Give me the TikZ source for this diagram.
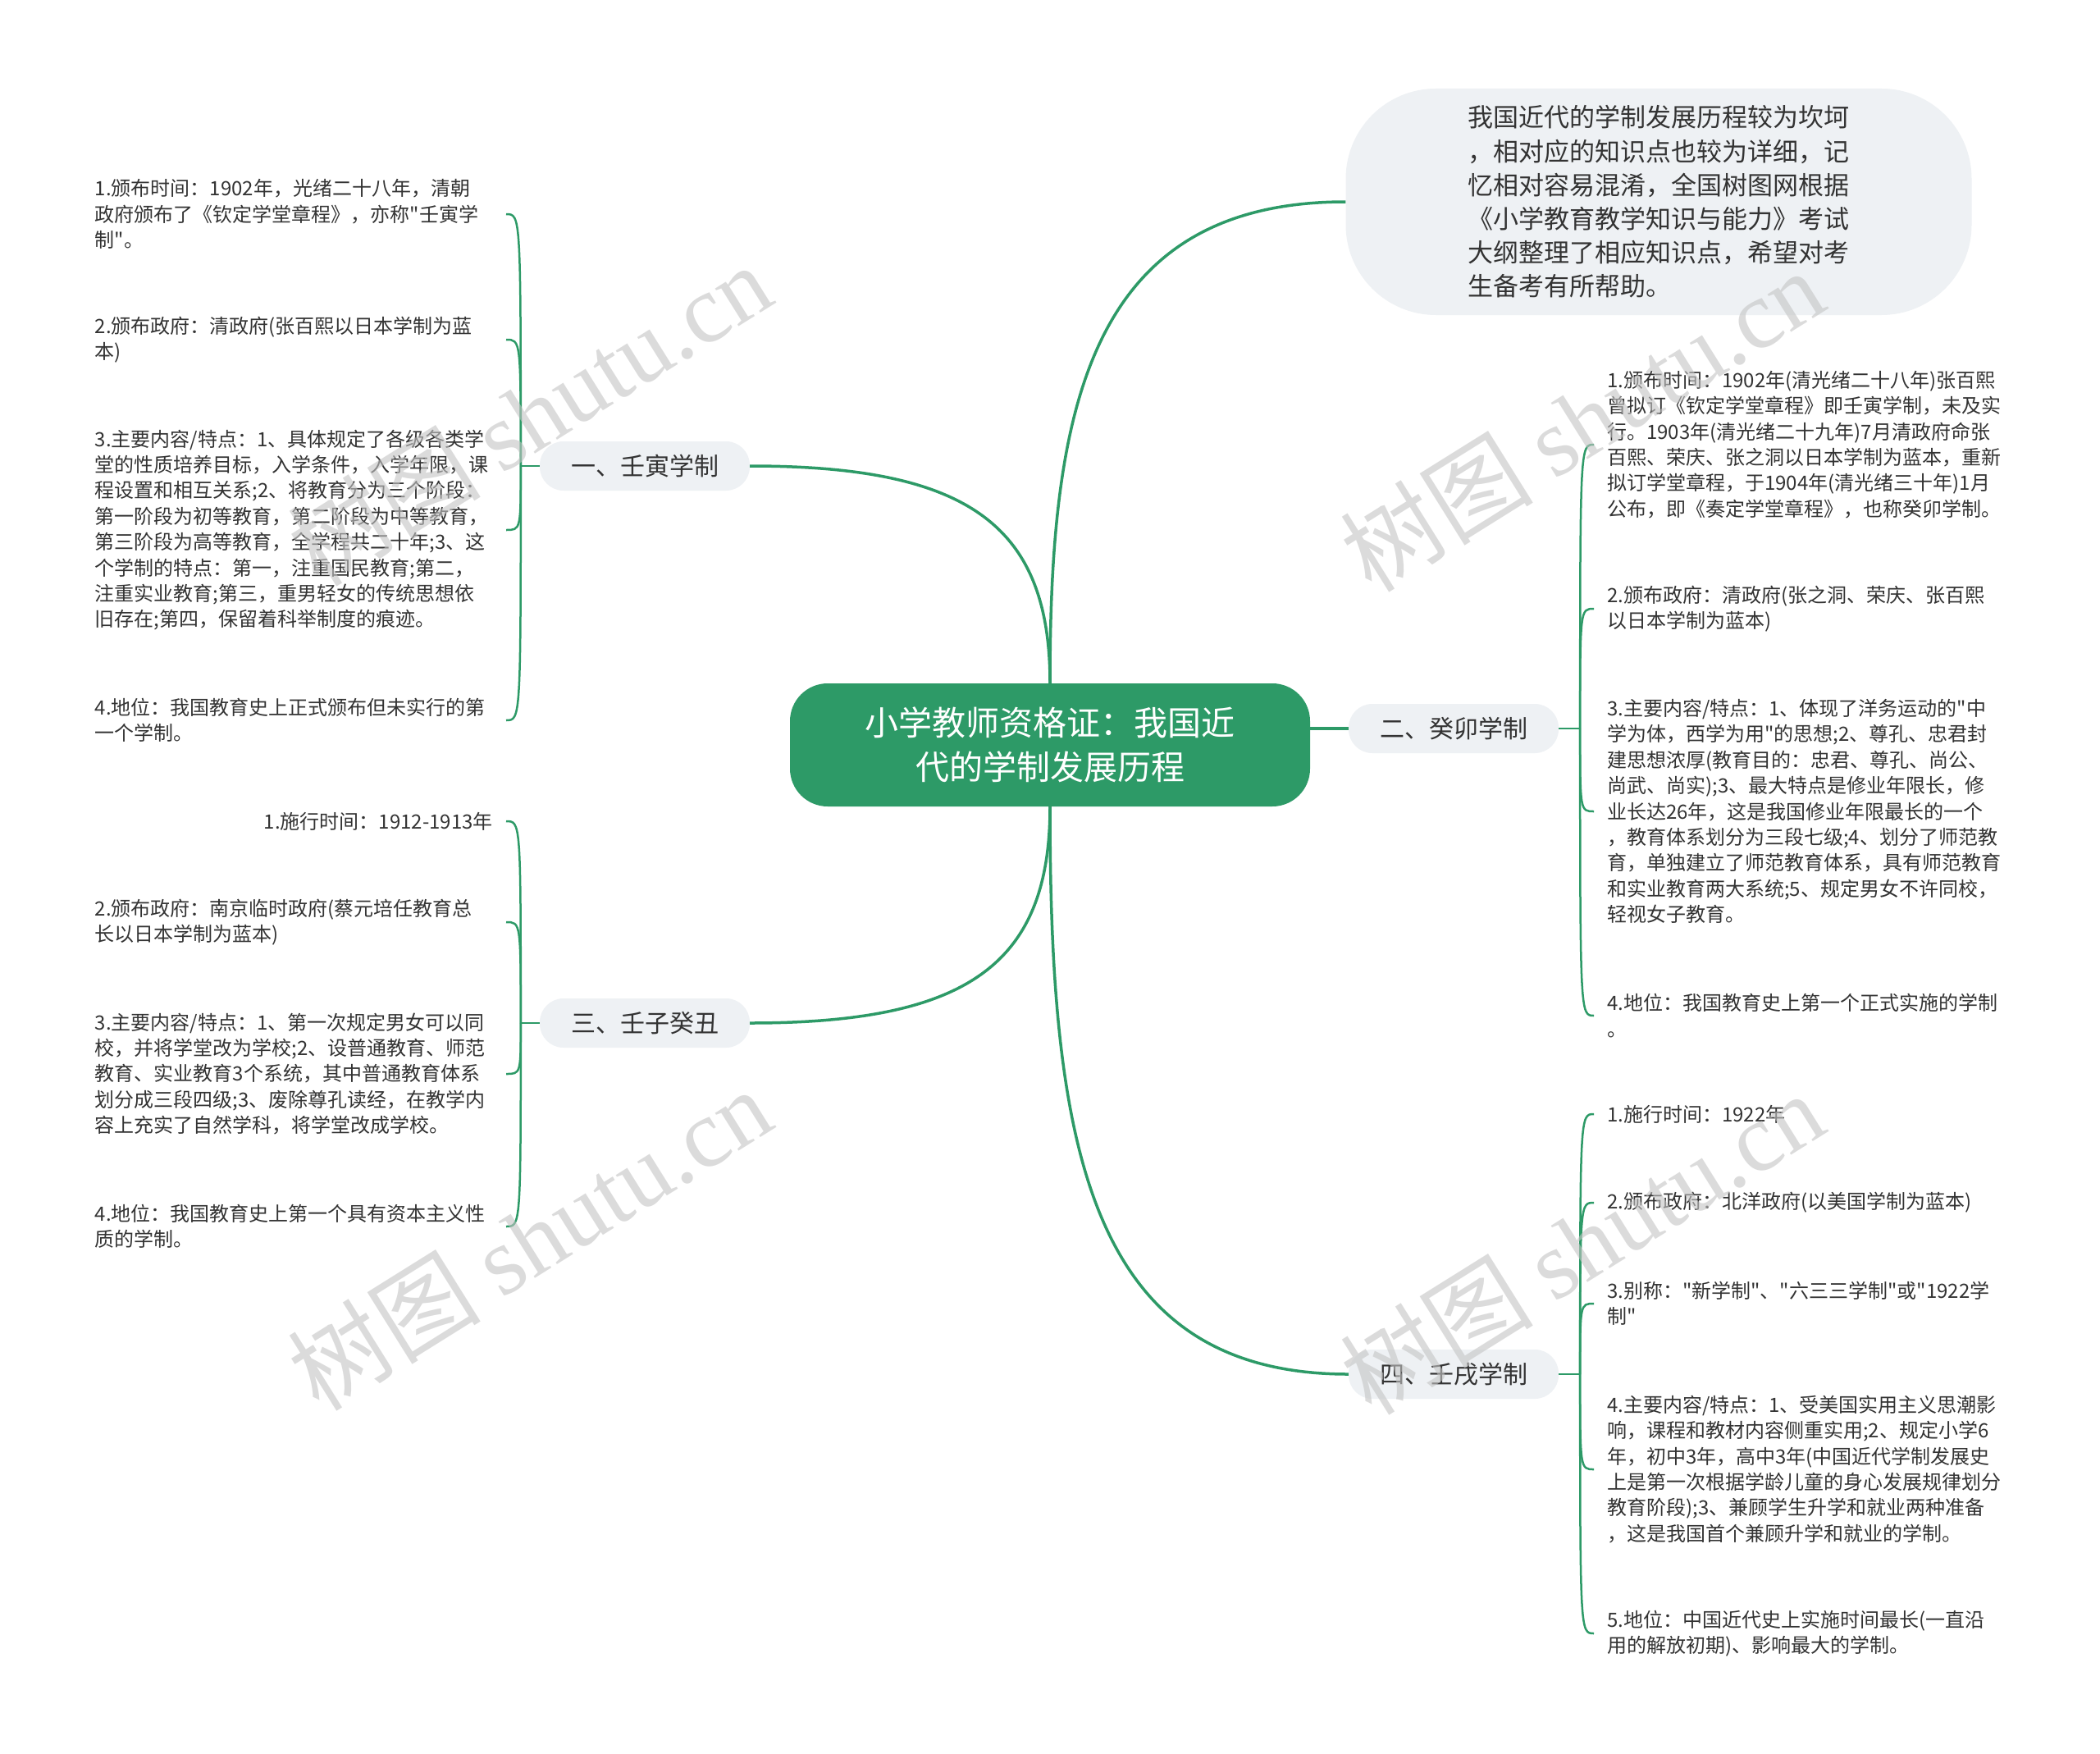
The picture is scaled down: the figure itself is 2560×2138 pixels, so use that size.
\documentclass[tikz,border=0pt]{standalone}
\usepackage{fontspec}
\setmainfont{Noto Sans CJK SC}[Ligatures=TeXOff]
\newfontfamily\stampfont{Liberation Serif}
\usepackage{tikz}
\usepackage{xcolor}
\usetikzlibrary{positioning}
\definecolor{pine}{HTML}{2D9A67}
\definecolor{mist}{HTML}{EEF1F4}
\definecolor{ink}{HTML}{333333}
\definecolor{stamp}{HTML}{C4C4C4}

\begin{document}
\begin{tikzpicture}[
    x=1pt, y=-1pt,
    root/.style={rectangle, rounded corners=46pt, fill=pine, text=white, minimum width=634pt, minimum height=150pt, align=center, font=\fontsize{41}{54}\selectfont},
    branch/.style={rectangle, rounded corners=29pt, fill=mist, text=ink, minimum width=256pt, minimum height=60pt, font=\fontsize{30}{36}\selectfont},
    note/.style={rectangle, rounded corners=110pt, fill=mist, text=ink, minimum width=763pt, minimum height=276pt, align=left, font=\fontsize{31}{41.2}\selectfont},
    leaf/.style={inner xsep=16pt, inner ysep=4pt, align=left, text=ink, font=\fontsize{24}{31.4}\selectfont},
    leafbox/.style={leaf, text width=485pt},
    bough/.style={draw=pine, line width=3.5pt},
    twig/.style={draw=pine, line width=2.5pt},
    stampmark/.style={text=stamp, opacity=0.6, rotate=32, font=\fontsize{118}{118}\selectfont}
]
    \path[fill=white, use as bounding box] (0,0) rectangle (2560,2138);

    % Centre and note
    \node[root] (root) at (1280,908) {小学教师资格证：我国近\\代的学制发展历程};
    \node[note] (note) at (2022,246) {我国近代的学制发展历程较为坎坷\\，相对应的知识点也较为详细，记\\忆相对容易混淆，全国树图网根据\\《小学教育教学知识与能力》考试\\大纲整理了相应知识点，希望对考\\生备考有所帮助。};

    % Branches
    \node[branch] (b1) at (786,568) {一、壬寅学制};
    \node[branch] (b3) at (786,1247) {三、壬子癸丑};
    \node[branch] (b2) at (1772,888) {二、癸卯学制};
    \node[branch] (b4) at (1772,1675) {四、壬戌学制};
    \coordinate[left=23pt of b1.west] (s1);
    \coordinate[left=23pt of b3.west] (s3);
    \coordinate[right=26pt of b2.east] (s2);
    \coordinate[right=26pt of b4.east] (s4);

    % Leaves: 壬寅学制
    \node[leafbox, anchor=east] (l1a) at (617,261) {1.颁布时间：1902年，光绪二十八年，清朝\\政府颁布了《钦定学堂章程》，亦称"壬寅学\\制"。};
    \node[leafbox, anchor=east] (l1b) at (617,414) {2.颁布政府：清政府(张百熙以日本学制为蓝\\本)};
    \node[leafbox, anchor=east] (l1c) at (617,646) {3.主要内容/特点：1、具体规定了各级各类学\\堂的性质培养目标，入学条件，入学年限，课\\程设置和相互关系;2、将教育分为三个阶段：\\第一阶段为初等教育，第二阶段为中等教育，\\第三阶段为高等教育，全学程共二十年;3、这\\个学制的特点：第一，注重国民教育;第二，\\注重实业教育;第三，重男轻女的传统思想依\\旧存在;第四，保留着科举制度的痕迹。};
    \node[leafbox, anchor=east] (l1d) at (617,878) {4.地位：我国教育史上正式颁布但未实行的第\\一个学制。};

    % Leaves: 壬子癸丑
    \node[leaf, anchor=east] (l3a) at (617,1001) {1.施行时间：1912-1913年};
    \node[leafbox, anchor=east] (l3b) at (617,1124) {2.颁布政府：南京临时政府(蔡元培任教育总\\长以日本学制为蓝本)};
    \node[leafbox, anchor=east] (l3c) at (617,1309) {3.主要内容/特点：1、第一次规定男女可以同\\校，并将学堂改为学校;2、设普通教育、师范\\教育、实业教育3个系统，其中普通教育体系\\划分成三段四级;3、废除尊孔读经，在教学内\\容上充实了自然学科，将学堂改成学校。};
    \node[leafbox, anchor=east] (l3d) at (617,1495) {4.地位：我国教育史上第一个具有资本主义性\\质的学制。};

    % Leaves: 癸卯学制
    \node[leaf, anchor=west] (l2a) at (1943,542) {1.颁布时间：1902年(清光绪二十八年)张百熙\\曾拟订《钦定学堂章程》即壬寅学制，未及实\\行。1903年(清光绪二十九年)7月清政府命张\\百熙、荣庆、张之洞以日本学制为蓝本，重新\\拟订学堂章程，于1904年(清光绪三十年)1月\\公布，即《奏定学堂章程》，也称癸卯学制。};
    \node[leaf, anchor=west] (l2b) at (1943,742) {2.颁布政府：清政府(张之洞、荣庆、张百熙\\以日本学制为蓝本)};
    \node[leaf, anchor=west] (l2c) at (1943,989) {3.主要内容/特点：1、体现了洋务运动的"中\\学为体，西学为用"的思想;2、尊孔、忠君封\\建思想浓厚(教育目的：忠君、尊孔、尚公、\\尚武、尚实);3、最大特点是修业年限长，修\\业长达26年，这是我国修业年限最长的一个\\，教育体系划分为三段七级;4、划分了师范教\\育，单独建立了师范教育体系，具有师范教育\\和实业教育两大系统;5、规定男女不许同校，\\轻视女子教育。};
    \node[leaf, anchor=west] (l2d) at (1943,1238) {4.地位：我国教育史上第一个正式实施的学制\\。};

    % Leaves: 壬戌学制
    \node[leaf, anchor=west] (l4a) at (1943,1358) {1.施行时间：1922年};
    \node[leaf, anchor=west] (l4b) at (1943,1466) {2.颁布政府：北洋政府(以美国学制为蓝本)};
    \node[leaf, anchor=west] (l4c) at (1943,1589) {3.别称："新学制"、"六三三学制"或"1922学\\制"};
    \node[leaf, anchor=west] (l4d) at (1943,1791) {4.主要内容/特点：1、受美国实用主义思潮影\\响，课程和教材内容侧重实用;2、规定小学6\\年，初中3年，高中3年(中国近代学制发展史\\上是第一次根据学龄儿童的身心发展规律划分\\教育阶段);3、兼顾学生升学和就业两种准备\\，这是我国首个兼顾升学和就业的学制。};
    \node[leaf, anchor=west] (l4e) at (1943,1991) {5.地位：中国近代史上实施时间最长(一直沿\\用的解放初期)、影响最大的学制。};

    % Main connectors
    \draw[bough] (root.north) .. controls +(0,-333) and +(-314,0) .. (note.west);
    \draw[bough] (root.north) .. controls +(0,-193) and +(266,0) .. (b1.east);
    \draw[bough] (root.south) .. controls +(0,192) and +(266,0) .. (b3.east);
    \draw[bough] (root.east |- b2.west) -- (b2.west);
    \draw[bough] (root.south) .. controls +(0,417) and +(-316,0) .. (b4.west);

    % Leaf connectors: left
    \draw[twig] (b1) -- (s1);
    \draw[twig] (s1) .. controls (s1 |- l1a.east) .. (l1a.east);
    \draw[twig] (s1) .. controls (s1 |- l1b.east) .. (l1b.east);
    \draw[twig] (s1) .. controls (s1 |- l1c.east) .. (l1c.east);
    \draw[twig] (s1) .. controls (s1 |- l1d.east) .. (l1d.east);
    \draw[twig] (b3) -- (s3);
    \draw[twig] (s3) .. controls (s3 |- l3a.east) .. (l3a.east);
    \draw[twig] (s3) .. controls (s3 |- l3b.east) .. (l3b.east);
    \draw[twig] (s3) .. controls (s3 |- l3c.east) .. (l3c.east);
    \draw[twig] (s3) .. controls (s3 |- l3d.east) .. (l3d.east);

    % Leaf connectors: right
    \draw[twig] (b2) -- (s2);
    \draw[twig] (s2) .. controls (s2 |- l2a.west) .. (l2a.west);
    \draw[twig] (s2) .. controls (s2 |- l2b.west) .. (l2b.west);
    \draw[twig] (s2) .. controls (s2 |- l2c.west) .. (l2c.west);
    \draw[twig] (s2) .. controls (s2 |- l2d.west) .. (l2d.west);
    \draw[twig] (b4) -- (s4);
    \draw[twig] (s4) .. controls (s4 |- l4a.west) .. (l4a.west);
    \draw[twig] (s4) .. controls (s4 |- l4b.west) .. (l4b.west);
    \draw[twig] (s4) .. controls (s4 |- l4c.west) .. (l4c.west);
    \draw[twig] (s4) .. controls (s4 |- l4d.west) .. (l4d.west);
    \draw[twig] (s4) .. controls (s4 |- l4e.west) .. (l4e.west);

    % Watermarks
    \node[stampmark] (wm1) at (645,505) {树图 {\stampfont shutu.cn}};
    \node[stampmark] (wm2) at (645,1510) {树图 {\stampfont shutu.cn}};
    \node[stampmark] (wm3) at (1928,512) {树图 {\stampfont shutu.cn}};
    \node[stampmark] (wm4) at (1928,1515) {树图 {\stampfont shutu.cn}};
\end{tikzpicture}
\end{document}
